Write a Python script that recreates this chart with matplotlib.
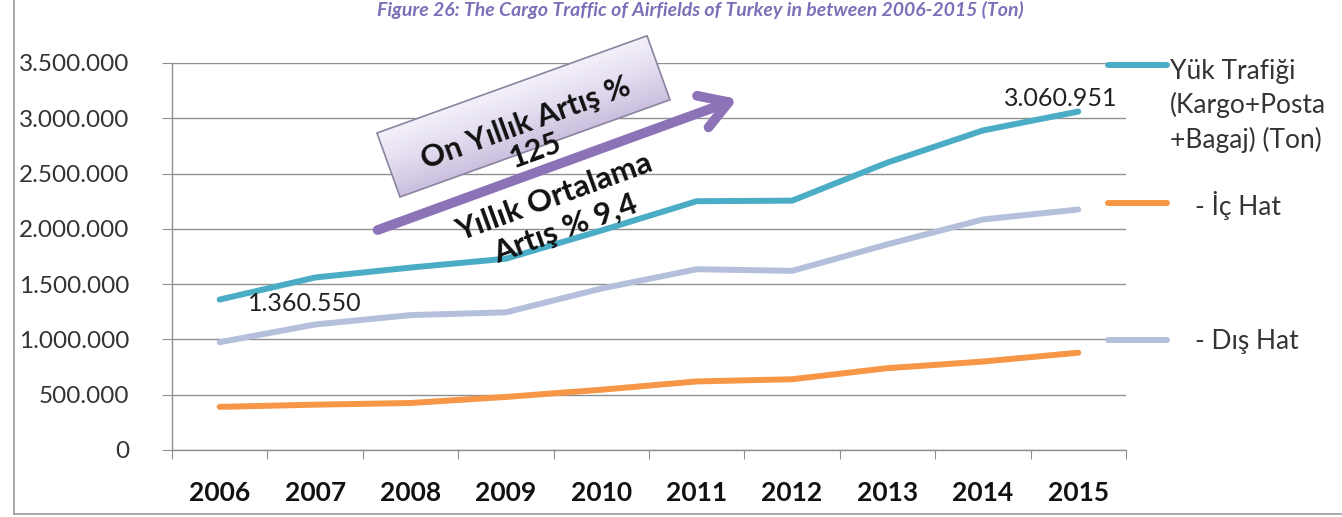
import numpy as np
import matplotlib
matplotlib.use("Agg")
import matplotlib.pyplot as plt
from matplotlib.lines import Line2D
from matplotlib.patches import Rectangle, FancyArrowPatch
from matplotlib.colors import LinearSegmentedColormap
from matplotlib.ticker import FixedLocator, FuncFormatter

# =========================
# DATA
# =========================
YEARS = ["2006", "2007", "2008", "2009", "2010", "2011", "2012", "2013", "2014", "2015"]
TOTAL = [1360550, 1560000, 1650000, 1730000, 1985000, 2250000, 2255000, 2600000, 2890000, 3060951]
DOMESTIC = [390000, 410000, 425000, 480000, 545000, 620000, 640000, 740000, 800000, 880000]
INTERNATIONAL = [975000, 1135000, 1220000, 1245000, 1460000, 1635000, 1620000, 1860000, 2085000, 2175000]

LABELS = ["Yük Trafiği\n(Kargo+Posta\n+Bagaj) (Ton)", "- İç Hat", "- Dış Hat"]
TITLE = "Figure 26: The Cargo Traffic of Airfields of Turkey in between 2006-2015 (Ton)"
BOX_TEXT = "On Yıllık Artış %\n125"
AVG_TEXT = "Yıllık Ortalama\nArtış % 9,4"

C_TOTAL = "#4BACC6"
C_DOM = "#F79646"
C_INT = "#B3BFDB"
GRID = "#8F8F8F"

plt.rcParams["font.family"] = ["Lato", "DejaVu Sans"]

W, H = 1342, 517
fig = plt.figure(figsize=(W / 100, H / 100), dpi=100)
ax = fig.add_axes([172 / W, 1 - 450 / H, (1126 - 172) / W, (450 - 63) / H])

x = np.arange(len(YEARS))

# =========================
# LINES
# =========================
ax.plot(x, TOTAL, color=C_TOTAL, lw=4.3, solid_capstyle="round", zorder=3)
ax.plot(x, DOMESTIC, color=C_DOM, lw=4.3, solid_capstyle="round", zorder=3)
ax.plot(x, INTERNATIONAL, color=C_INT, lw=4.3, solid_capstyle="round", zorder=3)

# =========================
# AXES
# =========================
ax.set_xlim(-0.5, len(YEARS) - 0.5)
ax.set_ylim(0, 3500000)
ax.yaxis.set_major_locator(FixedLocator(np.arange(0, 3500001, 500000)))
ax.yaxis.set_major_formatter(FuncFormatter(lambda v, p: f"{int(v):,}".replace(",", ".")))
ax.grid(axis="y", color=GRID, lw=1, zorder=0)
ax.set_axisbelow(True)

for s in ["top", "right"]:
    ax.spines[s].set_visible(False)
for s in ["left", "bottom"]:
    ax.spines[s].set_color(GRID)
    ax.spines[s].set_linewidth(1)

ax.tick_params(axis="y", direction="out", length=7, color=GRID, pad=24,
               labelsize=17.5, labelcolor="#333333")

ax.xaxis.set_major_locator(FixedLocator(np.arange(-0.5, len(YEARS), 1.0)))
ax.xaxis.set_major_formatter(FuncFormatter(lambda v, p: ""))
ax.xaxis.set_minor_locator(FixedLocator(x))
ax.set_xticklabels(YEARS, minor=True)
ax.tick_params(axis="x", which="major", direction="out", length=6.5, color=GRID)
ax.tick_params(axis="x", which="minor", length=0, pad=22)
for t in ax.get_xticklabels(minor=True):
    t.set_fontweight("bold")
    t.set_fontsize(19)
    t.set_color("#111111")

# data labels
ax.annotate("1.360.550", (0, TOTAL[0]), xytext=(28, -4), textcoords="offset pixels",
            ha="left", va="center", fontsize=18, color="#222222", zorder=5)
ax.annotate("3.060.951", (9, TOTAL[-1]), xytext=(39, 13), textcoords="offset pixels",
            ha="right", va="center", fontsize=18, color="#222222", zorder=5)

# =========================
# ANNOTATION (box + arrow)
# =========================
inch = fig.dpi_scale_trans
bx, by = 4.00, 3.20
box_w, box_h, ang = 2.87, 0.68, 19.8
cmap = LinearSegmentedColormap.from_list("lav", ["#CABEDD", "#E2DBEF", "#F3EFF9"])

# gradient fill as thin rotated strips
n = 40
th = np.deg2rad(ang)
for i in range(n):
    off = box_h * i / n
    sx = bx - off * np.sin(th)
    sy = by + off * np.cos(th)
    col = cmap(i / (n - 1))
    fig.add_artist(Rectangle((sx, sy), box_w, box_h / n + 0.004, angle=ang, transform=inch,
                             facecolor=col, edgecolor="none", zorder=5))

box = Rectangle((bx, by), box_w, box_h, angle=ang, transform=inch,
                facecolor="none", edgecolor="#8A84A0", lw=1.2, zorder=6)
fig.add_artist(box)

arrow = FancyArrowPatch((3.75, (H - 231) / 100), (7.40, (H - 98) / 100), transform=inch,
                        arrowstyle="->,head_length=0.9,head_width=0.55",
                        mutation_scale=22, color="#8C72B7", lw=7, zorder=7)
fig.add_artist(arrow)

fig.text(5.31, 3.80, BOX_TEXT, transform=inch, rotation=20, rotation_mode="anchor",
         ha="center", va="center", multialignment="center", fontsize=22,
         fontweight="bold", color="#111111", linespacing=1.05, zorder=8)
fig.text(5.60, 3.04, AVG_TEXT, transform=inch, rotation=20, rotation_mode="anchor",
         ha="center", va="center", multialignment="center", fontsize=22.5,
         fontweight="bold", color="#111111", linespacing=1.25, zorder=8)

# =========================
# LEGEND (manual)
# =========================
def px(xp, yp):
    return xp / W, 1 - yp / H

for (x0, x1, yy, col) in [(1108, 1167, 65, C_TOTAL), (1108, 1167, 203, C_DOM), (1108, 1167, 340, C_INT)]:
    a, b = px(x0, yy)
    c, _ = px(x1, yy)
    fig.add_artist(Line2D([a, c], [b, b], color=col, lw=4.3, solid_capstyle="round"))

fx, fy = px(1170, 106)
fig.text(fx, fy, LABELS[0], ha="left", va="center", fontsize=19, color="#333333", linespacing=1.42)
fx, fy = px(1195, 205)
fig.text(fx, fy, LABELS[1], ha="left", va="center", fontsize=19, color="#333333")
fx, fy = px(1195, 342)
fig.text(fx, fy, LABELS[2], ha="left", va="center", fontsize=19, color="#333333")

# =========================
# TITLE + frame
# =========================
fx, fy = px(700, 16)
fig.text(fx, fy, TITLE, ha="center", va="baseline", fontsize=14, fontweight="bold",
         fontstyle="italic", color="#7C70B8")

fig.add_artist(Line2D([14 / W, 14 / W], [3 / H, 1], color="#9A9A9A", lw=1.2))
fig.add_artist(Line2D([14 / W, 1], [3 / H, 3 / H], color="#9A9A9A", lw=1.2))

fig.savefig("out.png", dpi=100)
